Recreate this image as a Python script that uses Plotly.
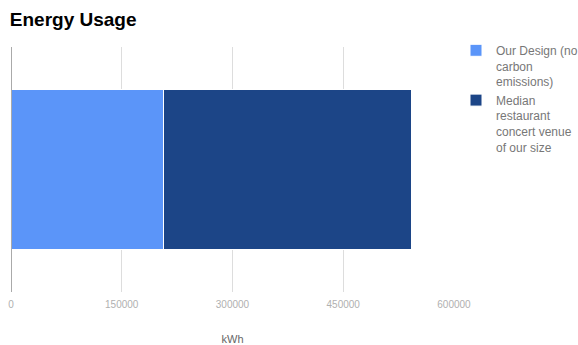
import plotly.graph_objects as go

category = ["Energy"]
series_names = ["Our Design (no<br>carbon<br>emissions)", "Median<br>restaurant<br>concert venue<br>of our size"]
our_design = [207000]
median_venue = [336000]
colors = ["#5b95f9", "#1c4587"]
tick_vals = [0, 150000, 300000, 450000, 600000]
tick_text = ["0", "150000", "300000", "450000", "600000"]

fig = go.Figure()
for name, vals, col in zip(series_names, [our_design, median_venue], colors):
    fig.add_trace(go.Bar(
        y=category, x=vals, name=name, orientation="h",
        marker=dict(color=col, line=dict(color="#ffffff", width=1)),
    ))

fig.update_layout(
    width=578, height=345,
    barmode="stack", bargap=0.35,
    paper_bgcolor="white", plot_bgcolor="white",
    margin=dict(l=11, r=124, t=47, b=53, autoexpand=False),
    title=dict(text="<b>Energy Usage</b>", x=0.017, xanchor="left", y=0.945, yanchor="middle",
               font=dict(family="Liberation Sans, Arial", size=19, color="#000000")),
    font=dict(family="Liberation Sans, Arial"),
    xaxis=dict(range=[0, 600000], tickvals=tick_vals, ticktext=tick_text,
               showgrid=True, gridcolor="#dddddd", gridwidth=1,
               zeroline=False, showline=False, ticks="", automargin=False,
               ticklabelstandoff=5,
               tickfont=dict(size=10, color="#b0b0b0"),
               title=dict(text="kWh", font=dict(size=11, color="#666666"), standoff=28)),
    yaxis=dict(showticklabels=False, showgrid=False, zeroline=False,
               showline=False, ticks="", automargin=False),
    legend=dict(xref="container", yref="container", x=456/578, xanchor="left",
                y=1 - 36/345, yanchor="top", valign="top",
                traceorder="normal", font=dict(size=12, color="#777777"),
                itemwidth=30, tracegroupgap=0),
    showlegend=True,
)
fig.add_shape(type="line", xref="x", yref="paper", x0=0, x1=0, y0=0, y1=1,
              line=dict(color="#aaaaaa", width=2))

fig.write_html("out.html")
